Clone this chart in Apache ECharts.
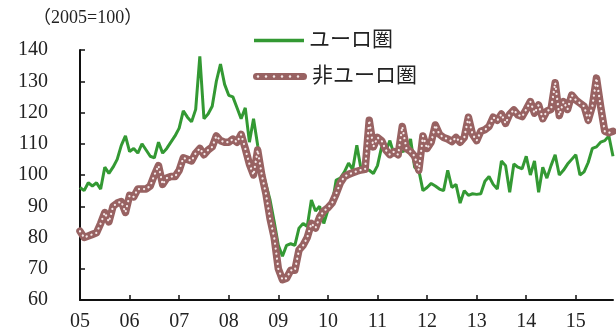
<!DOCTYPE html>
<html><head><meta charset="utf-8">
<script src="https://cdn.jsdelivr.net/npm/echarts@6/dist/echarts.min.js"></script>
<style>html,body{margin:0;padding:0;background:#fff}#c{width:616px;height:334px}</style>
</head><body><div id="c"></div>
<script>
const yearLabels = ['05','06','07','08','09','10','11','12','13','14','15'];
const monthsInLastYear = 10;
const seriesNames = ['ユーロ圏', '非ユーロ圏'];
const euroArea = [
 96,95,97.5,96.5,97.5,95.5,102.5,100.5,102.5,105,109.5,112.5,
 107.5,108.5,107,110,108,106,105.5,110.5,107,108.5,110.5,112.5,
 115,120.5,118.5,117,121,138,118,119.5,122,130,135.5,129,
 125.5,125,121.5,118,121.5,110.5,118,109.5,102,97,92,85,
 77.5,74,77.5,78,77.5,83,84.5,83.5,92,88.5,90,84.5,
 88.8,90.5,98.4,99,101,103.8,101.8,109.5,102,101.8,101.5,100.5,
 103,109,107.5,111,106.5,109,107.5,108,111.5,102.5,101.5,95,
 96,97.3,96.5,95.5,95,101.5,96,97,91,95,93.5,94,
 93.8,94,98,99.5,97,95.5,104.5,103,94.5,103.5,102.5,102,
 106,100,104.5,94.5,102.5,99,103,106.5,100,101.5,103.5,105,
 106.5,100,101,104,108.5,109,110.5,111,112.5,106
];
const nonEuroArea = [
 82,80,80.5,81,81.5,84.5,88,85,90,91,91.5,88,
 93.5,93,95.5,95.5,95.5,96.5,100,103,97,99,99.5,99.5,
 101.5,105.5,105,104.5,107,108.5,106.5,108,109,112.5,111,110.5,
 110.5,111.5,110.5,113,108.5,103.5,100,108,100,94,86,80,
 70,66.5,67,69.5,69.5,76,77.5,80,84.5,83,86.5,88.5,
 89.5,91,94,97.5,99.5,100.2,100.7,101.2,101.6,101.8,117.5,109,
 112,111,108,106.5,107.5,106.5,115.5,108.5,107.5,106,101.5,112.5,
 108.5,110.5,116,113,112,111.5,110.7,112,110.5,112,118.5,113,
 111,114,114.5,115.5,118.5,117.5,119.5,116.5,119.5,120.8,119.2,118.7,
 121,123.5,119.8,122.4,118,120.5,121,129.5,119,123.5,121,125.6,
 124,123,122,117.5,122,131,122,114,113.5,114
];
const yTicks = {min: 60, max: 140, interval: 10};
const title = '（2005=100）';

const categories = [];
yearLabels.forEach((y, i) => {
  const n = i === yearLabels.length - 1 ? monthsInLastYear : 12;
  for (let m = 1; m <= n; m++) categories.push(y + '-' + m);
});

const GREEN = '#339933';
const BROWN = '#986262';
const DOT = '#f6eaea';
const FONT = '"Liberation Serif","Noto Sans CJK JP",serif';

let dots = '';
for (let x = 5; x < 52; x += 8) dots += `<circle cx="${x}" cy="3.5" r="1.2" fill="${DOT}"/>`;
const svg = `<svg xmlns="http://www.w3.org/2000/svg" width="54" height="7" viewBox="0 0 54 7"><rect x="0" y="0" width="54" height="7" rx="3.5" fill="${BROWN}"/>${dots}</svg>`;
const brownIcon = 'image://data:image/svg+xml;charset=utf-8,' + encodeURIComponent(svg);

const chart = echarts.init(document.getElementById('c'), null, {renderer: 'canvas'});
const firstOfYear = (idx) => idx % 12 === 0;
const legendText = {fontFamily: FONT, fontSize: 21, color: '#222'};
chart.setOption({
  animation: false,
  backgroundColor: '#fff',
  textStyle: {fontFamily: FONT},
  title: {text: title, left: 28, top: 4,
    textStyle: {fontFamily: FONT, fontWeight: 'normal', fontSize: 18, color: '#222'}},
  legend: [
    {data: [{name: seriesNames[0], icon: 'rect'}], left: 249, top: 25, itemWidth: 50, itemHeight: 3.5,
      textStyle: legendText},
    {data: [{name: seriesNames[1], icon: brownIcon}], left: 248, top: 61, itemWidth: 54, itemHeight: 7,
      textStyle: legendText}
  ],
  grid: {left: 80, right: 3, top: 50, bottom: 34, containLabel: false},
  xAxis: {
    type: 'category', data: categories, boundaryGap: false,
    axisLine: {lineStyle: {color: '#111', width: 2}},
    axisTick: {inside: true, length: 5, interval: (i) => firstOfYear(i), lineStyle: {color: '#111', width: 1.5}},
    axisLabel: {interval: (i) => firstOfYear(i), formatter: (v) => v.split('-')[0],
      fontFamily: FONT, fontSize: 20, color: '#222', margin: 12},
    splitLine: {show: false}
  },
  yAxis: {
    type: 'value', min: yTicks.min, max: yTicks.max, interval: yTicks.interval,
    axisLine: {show: true, lineStyle: {color: '#111', width: 2}},
    axisTick: {show: true, inside: true, length: 5, lineStyle: {color: '#111', width: 1.5}},
    axisLabel: {fontFamily: FONT, fontSize: 20, color: '#222', margin: 32},
    splitLine: {show: false}
  },
  series: [
    {name: seriesNames[0], type: 'line', data: euroArea, symbol: 'none', z: 2,
      lineStyle: {color: GREEN, width: 3}, itemStyle: {color: GREEN}},
    {name: seriesNames[1], type: 'line', data: nonEuroArea, symbol: 'none', z: 3,
      lineStyle: {color: BROWN, width: 7.5, join: 'round', cap: 'round'}, itemStyle: {color: BROWN}},
    {name: seriesNames[1] + ' ', type: 'line', data: nonEuroArea, symbol: 'none', z: 4,
      lineStyle: {color: DOT, width: 2.2, type: [0.1, 5], cap: 'round'}, silent: true}
  ]
});
</script></body></html>
